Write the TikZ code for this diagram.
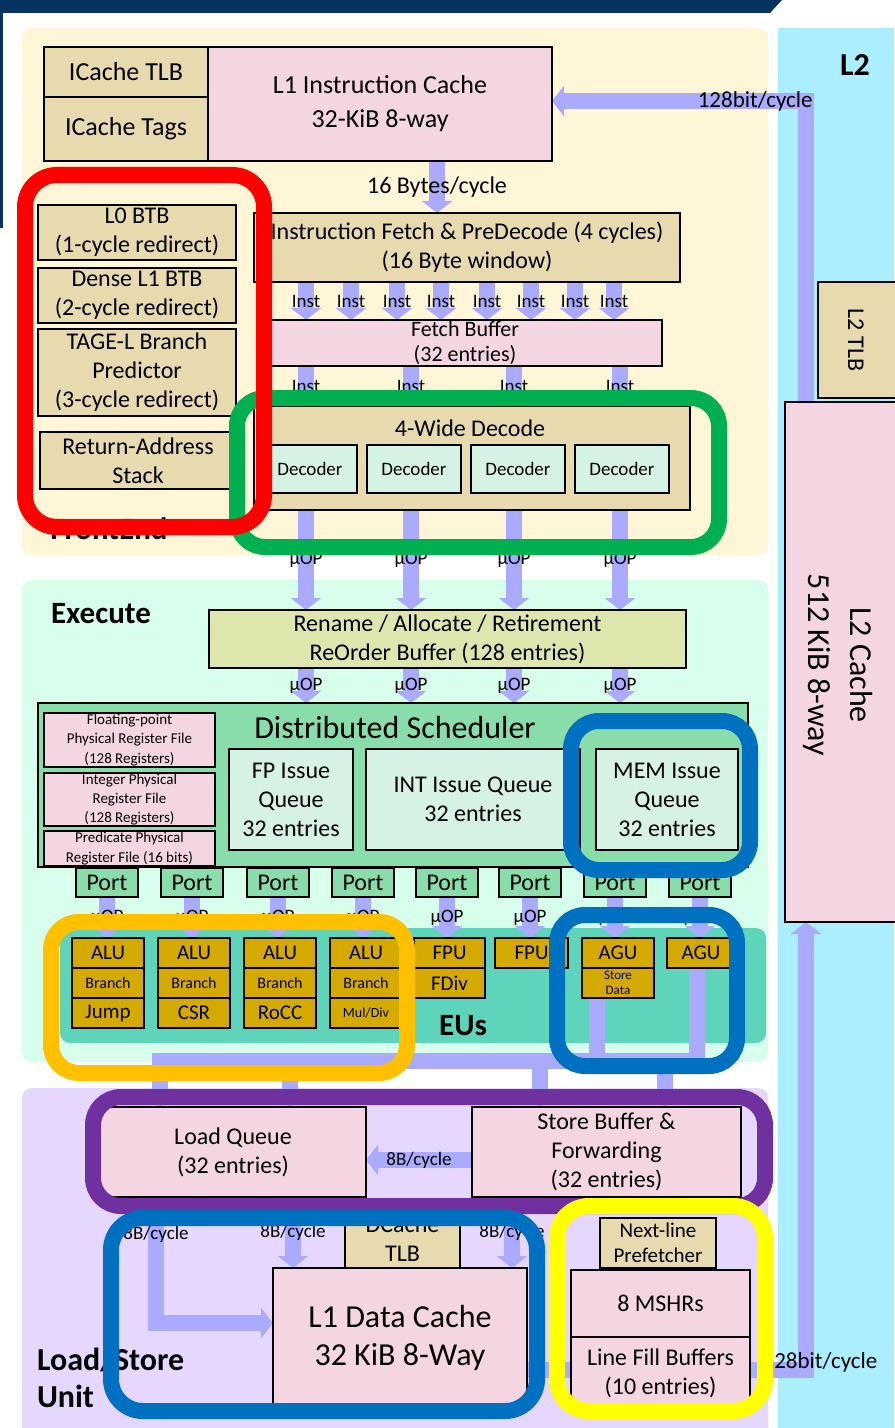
\documentclass[tikz,border=0pt]{standalone}
\usepackage{fontspec}
\setmainfont{Carlito}
\usetikzlibrary{arrows.meta,positioning}
\definecolor{navyhdr}{HTML}{06335F}
\definecolor{frontbg}{HTML}{FFF5D7}
\definecolor{execbg}{HTML}{D7FFEB}
\definecolor{lsubg}{HTML}{E6D7FF}
\definecolor{ltwobg}{HTML}{AAEEFF}
\definecolor{tanbox}{HTML}{E6DAAE}
\definecolor{pinkbox}{HTML}{F4D6E2}
\definecolor{renamefill}{HTML}{DFE6AD}
\definecolor{schedgreen}{HTML}{88DDAA}
\definecolor{iqgreen}{HTML}{D6F2E2}
\definecolor{eubg}{HTML}{5ED4BB}
\definecolor{eugold}{HTML}{D4A900}
\definecolor{busblue}{HTML}{AAAAFF}
\definecolor{hlred}{HTML}{FF0000}
\definecolor{hlgreen}{HTML}{00B050}
\definecolor{hlblue}{HTML}{0070C0}
\definecolor{hlorange}{HTML}{FFC000}
\definecolor{hlpurple}{HTML}{7030A0}
\definecolor{hlyellow}{HTML}{FFFF00}
\newcommand\fsz[2]{\fontsize{#1}{#2}\selectfont}
\pgfdeclarelayer{regions}
\pgfdeclarelayer{buses}
\pgfsetlayers{regions,buses,main}

\begin{document}
\begin{tikzpicture}[
  x=0.5pt, y=-0.5pt,
  every node/.style={inner sep=0pt, outer sep=0pt},
  wh/.style 2 args={minimum width=#1*0.5pt, minimum height=#2*0.5pt},
  blk/.style={draw=black, line width=1.2pt, anchor=north west,
    align=center, font=\fsz{12}{14.5}},
  eu/.style={blk, fill=eugold, font=\fsz{10.5}{12}},
  region/.style={rounded corners=5pt, anchor=north west},
  ttl/.style={font=\fsz{15.5}{18}\bfseries},
  lbl/.style={font=\fsz{9.5}{11}},
  fat/.style={draw=busblue, line width=8pt,
    -{Triangle[length=6pt, width=15pt]}},
  bar/.style={draw=busblue, line width=8pt},
  hl/.style={line width=8pt, rounded corners=14pt}
]
\useasboundingbox (0,0) rectangle (894,1428);

%% backdrop
\begin{pgfonlayer}{regions}
\fill[navyhdr] (0,0) -- (782,0) -- (770,13) -- (0,13) -- cycle;
\fill[navyhdr] (0,13) rectangle (3,228);
\node[region, fill=frontbg, wh={746}{527}] (frontend) at (22,28) {};
\node[region, fill=execbg, wh={746}{482}] (execute) at (22,580) {};
\node[region, fill=lsubg, wh={746}{360}] (lsu) at (22,1088) {};
\node[anchor=north west, fill=ltwobg, wh={116}{1410}] (ltwo) at (778,28) {};
\node[region, fill=eubg, wh={706}{115}] (eus) at (60,928) {};
\node[ttl] (frontttl) at (109,529) {FrontEnd};
\node[ttl] (execttl) at (101,614) {Execute};
\node[ttl] (eusttl) at (463,1026) {EUs};
\node[ttl, anchor=base west, font=\fsz{16}{19}\bfseries] (lsuttl) at (37,1370) {Load/Store};
\node[ttl, anchor=base west, font=\fsz{16}{19}\bfseries] (lsuttlb) at (37,1407) {Unit};
\node[ttl, font=\fsz{16}{19}\bfseries] (ltwottl) at (855,65) {L2};
\end{pgfonlayer}

%% front end
\node[blk, fill=tanbox, wh={164}{50}, font=\fsz{13}{16}] (itlb) at (44,47) {ICache TLB};
\node[blk, fill=tanbox, wh={164}{64}, font=\fsz{13}{16}] (itags) at (44,97) {ICache Tags};
\node[blk, fill=pinkbox, wh={344}{114}, font=\fsz{13}{17}] (lonei) at (208,47) {L1 Instruction Cache\\32-KiB 8-way};

\node[blk, fill=tanbox, wh={198}{55}] (btbz) at (38,205) {L0 BTB\\(1-cycle redirect)};
\node[blk, fill=tanbox, wh={198}{55}] (btbone) at (38,268) {Dense L1 BTB\\(2-cycle redirect)};
\node[blk, fill=tanbox, wh={198}{87}] (tage) at (38,329) {TAGE-L Branch\\Predictor\\(3-cycle redirect)};
\node[blk, fill=tanbox, wh={196}{57}] (ras) at (40,432) {Return-Address\\Stack};

\node[blk, fill=tanbox, wh={426}{69}] (ifetch) at (254,213)
  {Instruction Fetch \& PreDecode (4 cycles)\\(16 Byte window)};
\node[blk, fill=pinkbox, wh={394}{46}, font=\fsz{11}{12.5}] (fbuf) at (268,320) {Fetch Buffer\\(32 entries)};
\node[blk, fill=tanbox, wh={436}{104}] (decode) at (254,406) {};
\node[font=\fsz{12}{14}] (decodettl) at (470,428) {4-Wide Decode};
\foreach \i/\xx in {1/263,2/367,3/471,4/575}
  \node[blk, fill=iqgreen, wh={94}{48}, font=\fsz{9.5}{11}] (dec\i) at (\xx,445) {Decoder};

%% execute
\node[blk, fill=renamefill, wh={477}{58}] (rename) at (209,610)
  {Rename / Allocate / Retirement\\ReOrder Buffer (128 entries)};
\node[blk, fill=schedgreen, wh={710}{164}] (sched) at (38,703) {};
\node[font=\fsz{16}{19}] (schedttl) at (395,728) {Distributed Scheduler};
\node[blk, fill=pinkbox, wh={171}{54}, font=\fsz{7.5}{9.7}] (fprf) at (44,713)
  {Floating-point\\Physical Register File\\(128 Registers)};
\node[blk, fill=pinkbox, wh={171}{53}, font=\fsz{7.5}{9.7}] (iprf) at (44,773)
  {Integer Physical\\Register File\\(128 Registers)};
\node[blk, fill=pinkbox, wh={171}{35}, font=\fsz{7.5}{9.7}] (pprf) at (44,831)
  {Predicate Physical\\Register File (16 bits)};
\node[blk, fill=iqgreen, wh={124}{101}] (fpiq) at (229,749) {FP Issue\\Queue\\32 entries};
\node[blk, fill=iqgreen, wh={214}{101}] (intiq) at (366,749) {INT Issue Queue\\32 entries};
\node[blk, fill=iqgreen, wh={142}{101}] (memiq) at (596,749) {MEM Issue\\Queue\\32 entries};

\foreach \i/\xx in {1/76,2/161,3/247,4/332,5/416,6/499,7/584,8/669}
  \node[blk, fill=schedgreen, wh={62}{29}] (port\i) at (\xx,868) {Port};

\foreach \i/\xx in {1/72,2/158,3/244,4/330} {
  \node[eu, wh={72}{30}] (alu\i) at (\xx,938) {ALU};
  \node[eu, wh={72}{30}, font=\fsz{8}{9}] (br\i) at (\xx,968) {Branch};
}
\node[eu, wh={72}{30}] (jump) at (72,998) {Jump};
\node[eu, wh={72}{30}] (csr) at (158,998) {CSR};
\node[eu, wh={72}{30}] (rocc) at (244,998) {RoCC};
\node[eu, wh={72}{30}, font=\fsz{7}{8}] (muldiv) at (330,998) {Mul/Div};
\node[eu, wh={71}{30}] (fpua) at (414,938) {FPU};
\node[eu, wh={71}{30}] (fdiv) at (414,968) {FDiv};
\node[eu, wh={73}{30}] (fpub) at (495,938) {FPU};
\node[eu, wh={72}{30}] (agua) at (582,938) {AGU};
\node[eu, wh={72}{30}, font=\fsz{6.5}{7.5}] (stdata) at (582,968) {Store\\Data};
\node[eu, wh={68}{30}] (agub) at (667,938) {AGU};

%% load / store unit
\node[blk, fill=pinkbox, wh={266}{90}] (ldq) at (100,1107) {Load Queue\\(32 entries)};
\node[blk, fill=pinkbox, wh={269}{90}] (stb) at (472,1107) {Store Buffer \&\\Forwarding\\(32 entries)};
\node[blk, fill=tanbox, wh={115}{58}] (dtlb) at (345,1210) {DCache\\TLB};
\node[blk, fill=pinkbox, wh={254}{140}, font=\fsz{16}{19}] (loned) at (273,1268) {L1 Data Cache\\32 KiB 8-Way};
\node[blk, fill=tanbox, wh={116}{50}, font=\fsz{10.5}{12.5}] (pref) at (600,1218) {Next-line\\Prefetcher};
\node[blk, fill=pinkbox, wh={179}{67}] (mshr) at (571,1270) {8 MSHRs};
\node[blk, fill=pinkbox, wh={179}{72}] (lfb) at (571,1337) {Line Fill Buffers\\(10 entries)};

%% L2
\node[blk, fill=tanbox, wh={80}{116}] (ltlb) at (818,282) {};
\node[rotate=-90, font=\fsz{12}{14}] (ltlbtxt) at (856,340) {L2 TLB};
\node[blk, fill=pinkbox, wh={115}{520}] (ltwoc) at (785,402) {};
\node[rotate=-90, align=center, font=\fsz{16}{21}] (ltwotxt) at (838,665) {L2 Cache\\512 KiB 8-way};

%% buses
\begin{pgfonlayer}{buses}
\draw[fat] (lonei.south -| 437,0) -- (ifetch.north -| 437,0)
  node[midway, font=\fsz{12}{14}] (bwsixteen) {16 Bytes/cycle};
\foreach \xx in {306,351,397,441,487,531,575,614}
  \draw[fat] (ifetch.south -| \xx,0) -- (fbuf.north -| \xx,0) node[midway, lbl] {Inst};
\foreach \xx in {306,411,514,620} {
  \draw[fat] (fbuf.south -| \xx,0) -- (decode.north -| \xx,0) node[midway, lbl] {Inst};
  \draw[fat] (decode.south -| \xx,0) -- (rename.north -| \xx,0) node[midway, lbl] {µOP};
  \draw[fat] (rename.south -| \xx,0) -- (sched.north -| \xx,0) node[midway, lbl] {µOP};
}
\foreach \i/\dst in {1/alu1,2/alu2,3/alu3,4/alu4,5/fpua,6/fpub,7/agua,8/agub}
  \draw[fat] (port\i.south) -- (port\i.south |- \dst.north) node[midway, lbl] {µOP};

%% EU results to load / store
\coordinate (busl) at (160,1061);
\coordinate (busr) at (697,1061);
\draw[fat] (agub.south -| busr) -- (busr) -- (busl) -- (ldq.north -| busl);
\draw[bar] (stdata.south -| 597,0) -- (busl -| 597,0);
\foreach \xx/\dst in {290/ldq,540/stb,665/stb}
  \draw[fat] (busl -| \xx,0) -- (\dst.north -| \xx,0);

\draw[fat] (stb.west |- 0,1160) -- (ldq.east |- 0,1160) node[midway, lbl] {8B/cycle};
\draw[fat] (ldq.south -| 156,0) |- (loned.west |- 0,1323) node[pos=0.15, lbl] {8B/cycle};
\draw[fat] (ldq.south -| 293,0) -- (loned.north -| 293,0) node[midway, lbl] {8B/cycle};
\draw[fat] (stb.south -| 512,0) -- (loned.north -| 512,0) node[midway, lbl] {8B/cycle};

%% L2 links
\draw[fat] (ltwoc.north -| 806,0) |- (lonei.east |- 0,101)
  node[pos=0.6, font=\fsz{11.5}{14}] (bwtop) {128bit/cycle};
\draw[fat] (loned.east |- 0,1370) -| (ltwoc.south -| 806,0)
  node[pos=0.5, xshift=7pt, yshift=4pt, font=\fsz{11.5}{14}] (bwbot) {128bit/cycle};
\end{pgfonlayer}

%% highlight frames
\draw[hl, hlgreen] (237,398) rectangle (719,547);
\draw[hl, hlred, rounded corners=16pt] (25,175) rectangle (264,527);
\draw[hl, hlblue] (571,721) rectangle (750,870);
\draw[hl, hlorange] (51,922) rectangle (407,1073);
\draw[hl, hlblue] (557,915) rectangle (737,1066);
\draw[hl, hlpurple] (93,1097) rectangle (765,1206);
\draw[hl, hlblue, rounded corners=16pt] (111,1218) rectangle (537,1411);
\draw[hl, hlyellow, rounded corners=16pt] (557,1206) rectangle (765,1411);

\end{tikzpicture}
\end{document}
